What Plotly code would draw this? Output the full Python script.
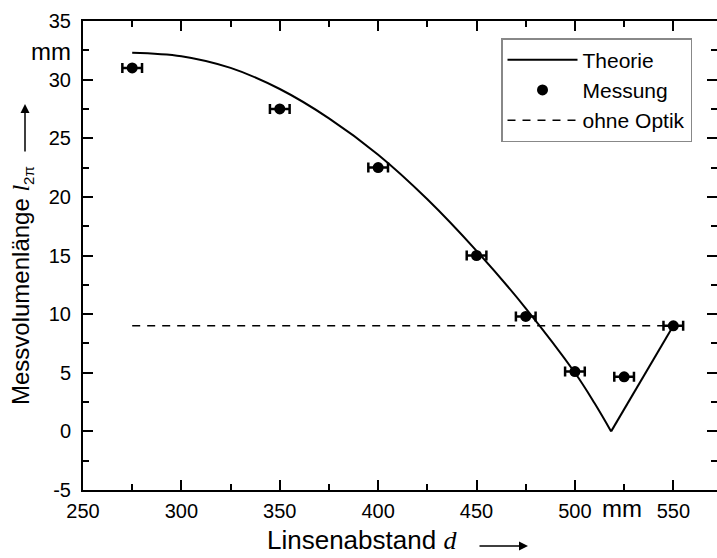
import plotly.graph_objects as go

# ---- data ----
mess_d = [275, 350, 400, 450, 475, 500, 525, 550]
mess_l = [31.0, 27.5, 22.5, 15.0, 9.8, 5.1, 4.65, 9.0]
mess_err = [5, 5, 5, 5, 5, 5, 5, 5]

theo_d = [275, 300, 325, 350, 375, 400, 425, 450, 475, 500, 510, 518.4]
theo_l = [32.3, 32.0, 31.0, 29.2, 26.7, 23.6, 19.8, 15.4, 10.5, 5.0, 2.4, 0.0]
theo2_d = [518.4, 550]
theo2_l = [0.0, 9.0]

ohne_d = [275, 550]
ohne_l = [9.0, 9.0]

x_ticks = [250, 300, 350, 400, 450, 500, 550]
x_tick_labels = ["250", "300", "350", "400", "450", "500", "550"]
y_ticks = [-5, 0, 5, 10, 15, 20, 25, 30, 35]
y_tick_labels = ["-5", "0", "5", "10", "15", "20", "25", "30", "35"]

W, H = 717, 558
L, R, T, B = 83, 0, 21, 68
PW, PH = W - L - R, H - T - B


def px(xp):
    return (xp - L) / PW


def py(yp):
    return (H - B - yp) / PH


FONT = "Arial, 'Liberation Sans', sans-serif"

fig = go.Figure()
fig.add_trace(go.Scatter(x=theo_d, y=theo_l, mode="lines", name="Theorie",
                         legendgroup="theo",
                         line=dict(color="black", width=2, shape="spline", smoothing=1)))
fig.add_trace(go.Scatter(x=theo2_d, y=theo2_l, mode="lines", name="Theorie",
                         legendgroup="theo", showlegend=False,
                         line=dict(color="black", width=2)))
fig.add_trace(go.Scatter(x=mess_d, y=mess_l, mode="markers", name="Messung",
                         marker=dict(color="black", size=11),
                         error_x=dict(type="data", array=mess_err, visible=True,
                                      color="black", thickness=2.5, width=5)))
fig.add_trace(go.Scatter(x=ohne_d, y=ohne_l, mode="lines", name="ohne Optik",
                         line=dict(color="black", width=1.5, dash="8px,7px")))

axis_common = dict(showgrid=False, zeroline=False, showline=True, linecolor="black",
                   linewidth=2, mirror="ticks", ticks="inside", ticklen=10,
                   tickwidth=2, tickcolor="black", automargin=False,
                   tickfont=dict(family=FONT, size=20, color="black"))

fig.update_xaxes(range=[250, 572.2], tickvals=x_ticks, ticktext=x_tick_labels,
                 minor=dict(dtick=25, tick0=250, ticks="inside", ticklen=6,
                            tickwidth=2, tickcolor="black"),
                 ticklabelstandoff=2, **axis_common)
fig.update_yaxes(range=[-5, 35], tickvals=y_ticks, ticktext=y_tick_labels,
                 minor=dict(dtick=2.5, tick0=-5, ticks="inside", ticklen=6,
                            tickwidth=2, tickcolor="black"),
                 ticklabelstandoff=6, **axis_common)

annotations = [
    # unit labels
    dict(text="mm", xref="paper", yref="y", x=0, y=32.4, xanchor="right",
         yanchor="middle", xshift=-10, showarrow=False,
         font=dict(family=FONT, size=24, color="black")),
    dict(text="mm", xref="x", yref="paper", x=524, y=0, xanchor="center",
         yanchor="top", yshift=-3, showarrow=False,
         font=dict(family=FONT, size=24, color="black")),
    # axis titles
    dict(text="Messvolumenlänge <span style=\"font-family:Liberation Serif\"><i>l</i></span>"
              "<sub><span style=\"font-size:15px\">2π</span></sub>",
         xref="paper", yref="paper", x=px(22), y=py(286), textangle=-90,
         xanchor="center", yanchor="middle", showarrow=False,
         font=dict(family=FONT, size=24, color="black")),
    dict(text="Linsenabstand <span style=\"font-family:Liberation Serif\"><i>d</i></span>",
         xref="paper", yref="paper", x=px(362), y=py(540),
         xanchor="center", yanchor="middle", showarrow=False,
         font=dict(family=FONT, size=26, color="black")),
    # arrows
    dict(text="", xref="paper", yref="paper", x=px(528), y=py(546),
         ax=-50, ay=0, showarrow=True, arrowhead=2, arrowsize=1.2,
         arrowwidth=1.5, arrowcolor="black"),
    dict(text="", xref="paper", yref="paper", x=px(25), y=py(104),
         ax=0, ay=49, showarrow=True, arrowhead=2, arrowsize=1.2,
         arrowwidth=1.5, arrowcolor="black"),
]

fig.update_layout(
    width=W, height=H,
    margin=dict(l=L, r=R, t=T, b=B, autoexpand=False),
    paper_bgcolor="white", plot_bgcolor="white",
    font=dict(family=FONT, color="black"),
    legend=dict(x=px(501), y=py(38), xanchor="left", yanchor="top",
                bordercolor="#888888", borderwidth=1.5, bgcolor="white",
                font=dict(family=FONT, size=21, color="black"),
                itemwidth=70, tracegroupgap=0),
    annotations=annotations,
    showlegend=True,
)

fig.write_html("out.html", config={"displayModeBar": False},
               post_script="document.body.style.margin='0';")
